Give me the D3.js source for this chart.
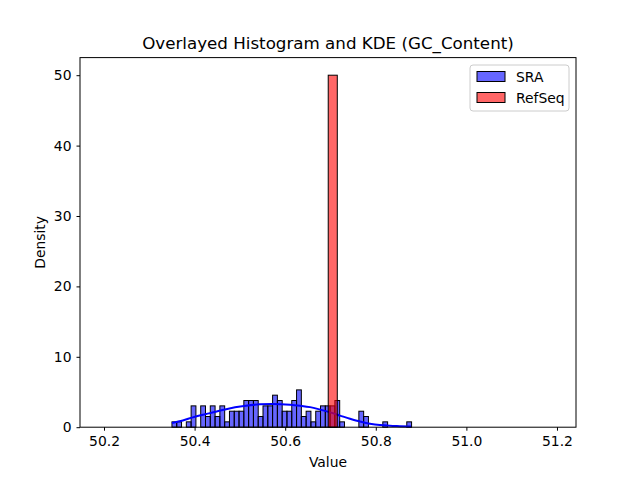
<!DOCTYPE html>
<html>
<head>
<meta charset="utf-8">
<script src="https://cdn.jsdelivr.net/npm/d3@7"></script>
<style>
body { margin: 0; background: #fff; }
svg { font-family: "DejaVu Sans", sans-serif; }
</style>
</head>
<body>
<div id="chart"></div>
<script>
// SRA histogram: 50 bins between these edges, density per bin
var sraLo = 50.350;
var sraHi = 50.879;
var sraDensity = [0.76, 0.76, 0, 0.76, 3.03, 0, 3.03, 1.52, 3.03, 1.52,
    3.03, 0.76, 2.27, 2.27, 2.27, 3.79, 3.79, 3.79, 1.52, 3.03,
    3.03, 4.55, 3.79, 2.27, 2.27, 3.79, 5.3, 1.52, 2.27, 0.76,
    2.27, 3.03, 3.03, 3.03, 3.79, 0.76, 0, 0, 0, 2.27,
    1.52, 0, 0, 0, 0.76, 0, 0, 0, 0, 0.76];

// RefSeq: a single bin
var refEdges = [50.695, 50.715];
var refDensity = [50];

// SRA KDE curve
var kdeX = [50.350, 50.374, 50.396, 50.434, 50.472, 50.509, 50.544, 50.571, 50.611, 50.633,
    50.655, 50.677, 50.699, 50.721, 50.743, 50.765, 50.787, 50.809, 50.831, 50.853, 50.878];
var kdeY = [0.6, 0.95, 1.4, 2.0, 2.6, 3.0, 3.25, 3.3, 3.2, 3.05,
    2.85, 2.5, 2.1, 1.65, 1.2, 0.8, 0.5, 0.3, 0.2, 0.15, 0.1];

var xTicks = [50.2, 50.4, 50.6, 50.8, 51.0, 51.2];
var yTicks = [0, 10, 20, 30, 40, 50];

var width = 640, height = 480;
var margin = {left: 80, right: 64, top: 57.6, bottom: 52.8};

var svg = d3.select("#chart").append("svg")
    .attr("width", width)
    .attr("height", height);

var x = d3.scaleLinear().domain([50.147, 51.242]).range([margin.left, width - margin.right]);
var y = d3.scaleLinear().domain([0, 52.5]).range([height - margin.bottom, margin.top]);

// build bins
var step = (sraHi - sraLo) / sraDensity.length;
var sraBins = sraDensity.map(function(d, i) {
    return {x0: sraLo + i * step, x1: sraLo + (i + 1) * step, v: d};
});
var refBins = refDensity.map(function(d, i) {
    return {x0: refEdges[i], x1: refEdges[i + 1], v: d};
});

var plot = svg.append("g");

plot.selectAll(".sra")
    .data(sraBins.filter(function(d) { return d.v > 0; }))
    .enter().append("rect")
    .attr("class", "sra")
    .attr("x", function(d) { return x(d.x0); })
    .attr("width", function(d) { return x(d.x1) - x(d.x0); })
    .attr("y", function(d) { return y(d.v); })
    .attr("height", function(d) { return y(0) - y(d.v); })
    .attr("fill", "blue")
    .attr("fill-opacity", 0.6)
    .attr("stroke", "#000")
    .attr("stroke-width", 1);

var line = d3.line()
    .x(function(d, i) { return x(kdeX[i]); })
    .y(function(d) { return y(d); })
    .curve(d3.curveMonotoneX);

plot.append("path")
    .datum(kdeY)
    .attr("d", line)
    .attr("fill", "none")
    .attr("stroke", "blue")
    .attr("stroke-width", 2);

plot.selectAll(".ref")
    .data(refBins)
    .enter().append("rect")
    .attr("class", "ref")
    .attr("x", function(d) { return x(d.x0); })
    .attr("width", function(d) { return x(d.x1) - x(d.x0); })
    .attr("y", function(d) { return y(d.v); })
    .attr("height", function(d) { return y(0) - y(d.v); })
    .attr("fill", "red")
    .attr("fill-opacity", 0.6)
    .attr("stroke", "#000")
    .attr("stroke-width", 1);

// axes
var xAxis = svg.append("g")
    .attr("transform", "translate(0," + (height - margin.bottom) + ")")
    .call(d3.axisBottom(x).tickValues(xTicks).tickFormat(d3.format(".1f")).tickSizeOuter(0).tickSize(3.5).tickPadding(5));

var yAxis = svg.append("g")
    .attr("transform", "translate(" + margin.left + ",0)")
    .call(d3.axisLeft(y).tickValues(yTicks).tickSizeOuter(0).tickSize(3.5).tickPadding(5));

svg.selectAll(".tick text")
    .attr("font-size", "13.9px")
    .attr("font-family", "DejaVu Sans")
    .attr("fill", "#000");
svg.selectAll(".tick line").attr("stroke", "#000");
svg.selectAll(".domain").remove();

// frame
svg.append("rect")
    .attr("x", margin.left)
    .attr("y", margin.top)
    .attr("width", width - margin.left - margin.right)
    .attr("height", height - margin.top - margin.bottom)
    .attr("fill", "none")
    .attr("stroke", "#000")
    .attr("stroke-width", 1);

svg.append("text")
    .attr("x", (margin.left + width - margin.right) / 2)
    .attr("y", 49)
    .attr("text-anchor", "middle")
    .style("font-size", "16.7px")
    .text("Overlayed Histogram and KDE (GC_Content)");

svg.append("text")
    .attr("x", (margin.left + width - margin.right) / 2)
    .attr("y", 467)
    .attr("text-anchor", "middle")
    .style("font-size", "13.9px")
    .text("Value");

svg.append("text")
    .attr("transform", "translate(45," + ((margin.top + height - margin.bottom) / 2) + ") rotate(-90)")
    .attr("text-anchor", "middle")
    .style("font-size", "13.9px")
    .text("Density");

// legend
var legendNames = ["SRA", "RefSeq"];
var legendColors = ["blue", "red"];

var legend = svg.append("g").attr("transform", "translate(470,65)");
legend.append("rect")
    .attr("width", 99)
    .attr("height", 46)
    .attr("rx", 3)
    .attr("fill", "#fff")
    .attr("fill-opacity", 0.8)
    .attr("stroke", "#ccc");

legendNames.forEach(function(name, i) {
    legend.append("rect")
        .attr("x", 7)
        .attr("y", 6.5 + i * 21)
        .attr("width", 28)
        .attr("height", 10)
        .attr("fill", legendColors[i])
        .attr("fill-opacity", 0.6)
        .attr("stroke", "#000");
    legend.append("text")
        .attr("x", 46)
        .attr("y", 16.5 + i * 21)
        .style("font-size", "13.9px")
        .text(name);
});
</script>
</body>
</html>
